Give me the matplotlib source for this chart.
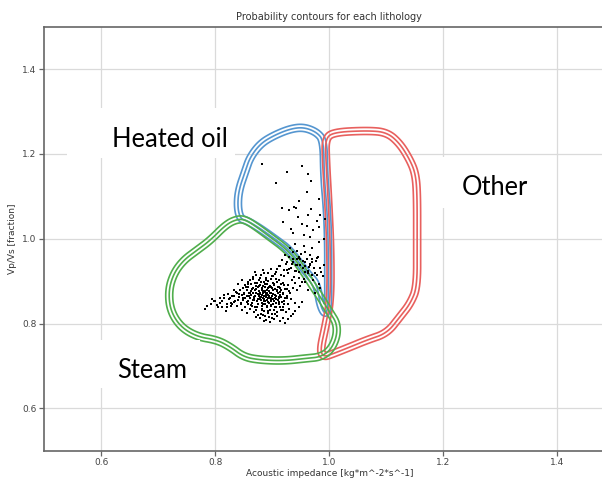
import numpy as np
import matplotlib.pyplot as plt
from matplotlib.path import Path
from matplotlib.patches import Rectangle

# outline of each lithology's probability region (acoustic impedance, Vp/Vs)
heated_x = [0.844, 0.839, 0.841, 0.853, 0.861, 0.879, 0.902, 0.931, 0.955, 0.978,
            0.990, 0.991, 0.996, 0.998, 0.998, 0.998, 0.993, 0.984, 0.978, 0.961,
            0.931, 0.908, 0.879, 0.855]
heated_y = [1.047, 1.074, 1.114, 1.161, 1.192, 1.224, 1.243, 1.259, 1.263, 1.251,
            1.231, 1.145, 1.067, 0.989, 0.909, 0.841, 0.820, 0.843, 0.894, 0.918,
            0.973, 0.996, 1.024, 1.043]

other_x = [0.993, 1.007, 1.066, 1.101, 1.124, 1.142, 1.151, 1.154, 1.154, 1.154,
           1.142, 1.124, 1.101, 1.066, 1.037, 1.007, 0.990, 0.984, 0.993, 1.002,
           1.002, 0.998, 0.994]
other_y = [1.235, 1.251, 1.255, 1.251, 1.224, 1.184, 1.153, 1.106, 0.988, 0.886,
           0.847, 0.816, 0.777, 0.761, 0.745, 0.729, 0.721, 0.737, 0.792, 0.855,
           0.973, 1.090, 1.184]

steam_x = [0.841, 0.820, 0.791, 0.768, 0.744, 0.727, 0.718, 0.721, 0.739, 0.768,
           0.803, 0.826, 0.850, 0.879, 0.920, 0.961, 0.984, 1.002, 1.013, 1.013,
           1.002, 0.984, 0.972, 0.961, 0.937, 0.920, 0.896, 0.873, 0.855]
steam_y = [1.047, 1.035, 0.996, 0.973, 0.949, 0.918, 0.878, 0.831, 0.792, 0.769,
           0.761, 0.745, 0.721, 0.714, 0.712, 0.718, 0.721, 0.737, 0.769, 0.800,
           0.824, 0.863, 0.886, 0.910, 0.957, 0.980, 1.004, 1.027, 1.043]

# measured samples: sparse upper group
upper_x = [0.881, 0.925, 0.952, 0.963, 0.968, 0.907, 0.960, 0.947, 0.938, 0.942,
           0.930, 0.917, 0.967, 0.981, 0.962, 0.945, 0.978, 0.918, 0.952, 0.960,
           0.933, 0.971, 0.981, 0.937, 0.955, 0.966, 0.990, 0.981, 0.993, 0.983]
upper_y = [1.176, 1.158, 1.172, 1.153, 1.137, 1.132, 1.111, 1.088, 1.075, 1.072,
           1.067, 1.073, 1.069, 1.093, 1.055, 1.052, 1.042, 1.040, 1.035, 1.030,
           1.024, 1.020, 1.028, 1.014, 1.008, 1.004, 1.000, 0.992, 1.047, 1.055]

# middle group near the heated oil / steam boundary
mid_x = [0.931, 0.940, 0.944, 0.955, 0.958, 0.969, 0.923, 0.936, 0.943, 0.950,
         0.953, 0.966, 0.970, 0.980, 0.917, 0.929, 0.934, 0.947, 0.949, 0.961,
         0.964, 0.977, 0.983, 0.913, 0.926, 0.930, 0.942, 0.946, 0.958, 0.962,
         0.973, 0.978, 0.908, 0.920, 0.925, 0.938, 0.941, 0.955, 0.957, 0.971,
         0.974, 0.988, 0.946, 0.937]
mid_y = [0.979, 0.987, 0.970, 0.983, 0.968, 0.978, 0.961, 0.969, 0.951, 0.963,
         0.948, 0.962, 0.944, 0.957, 0.949, 0.956, 0.941, 0.954, 0.937, 0.951,
         0.934, 0.947, 0.931, 0.936, 0.944, 0.928, 0.939, 0.921, 0.936, 0.918,
         0.931, 0.914, 0.929, 0.913, 0.927, 0.910, 0.923, 0.905, 0.921, 0.902,
         0.918, 0.911, 0.958, 0.952]

# dense steam group
core_x = [0.872, 0.885, 0.899, 0.905, 0.866, 0.878, 0.889, 0.897, 0.906, 0.912,
          0.858, 0.870, 0.880, 0.886, 0.893, 0.901, 0.909, 0.918, 0.852, 0.863,
          0.872, 0.879, 0.884, 0.890, 0.896, 0.903, 0.911, 0.921, 0.848, 0.857,
          0.866, 0.874, 0.881, 0.887, 0.892, 0.898, 0.905, 0.913, 0.925, 0.843,
          0.855, 0.862, 0.869, 0.876, 0.882, 0.886, 0.890, 0.895, 0.901, 0.908,
          0.916, 0.930, 0.838, 0.850, 0.859, 0.866, 0.872, 0.878, 0.883, 0.887,
          0.891, 0.896, 0.902, 0.910, 0.919, 0.832, 0.846, 0.856, 0.863, 0.870,
          0.876, 0.881, 0.885, 0.889, 0.894, 0.899, 0.906, 0.914, 0.926, 0.826,
          0.841, 0.852, 0.861, 0.868, 0.874, 0.879, 0.884, 0.889, 0.893, 0.898,
          0.904, 0.912, 0.922, 0.835, 0.849, 0.858, 0.866, 0.873, 0.880, 0.886,
          0.891, 0.897, 0.903, 0.910, 0.920, 0.829, 0.845, 0.857, 0.865, 0.874,
          0.882, 0.888, 0.895, 0.902, 0.911, 0.928, 0.820, 0.838, 0.852, 0.864,
          0.873, 0.881, 0.890, 0.898, 0.907, 0.918, 0.846, 0.860, 0.871, 0.882,
          0.893, 0.903, 0.915, 0.855, 0.868, 0.880, 0.892, 0.905, 0.872, 0.888,
          0.900, 0.885, 0.896,
          0.861, 0.867, 0.874, 0.877, 0.883, 0.886, 0.888, 0.891, 0.894, 0.897,
          0.899, 0.902, 0.905, 0.908, 0.911, 0.914, 0.917, 0.871, 0.876, 0.880,
          0.884, 0.887, 0.889, 0.892, 0.895, 0.898, 0.900, 0.903, 0.907, 0.910,
          0.913, 0.916, 0.919, 0.922, 0.925, 0.928, 0.931, 0.934, 0.937, 0.940,
          0.943, 0.946, 0.949, 0.952, 0.856, 0.859, 0.862, 0.865, 0.868, 0.870,
          0.873, 0.875, 0.878, 0.881, 0.882, 0.885, 0.886, 0.888, 0.890, 0.893,
          0.896, 0.897, 0.901, 0.904, 0.906, 0.909, 0.912, 0.915, 0.918, 0.921,
          0.924, 0.927, 0.930, 0.933, 0.936, 0.939,
          0.853, 0.857, 0.861, 0.866, 0.870, 0.876, 0.880, 0.884, 0.889, 0.893,
          0.898, 0.902, 0.906, 0.911, 0.915, 0.920, 0.924, 0.928, 0.932, 0.936,
          0.940, 0.944, 0.948, 0.953, 0.957, 0.962, 0.966, 0.970,
          0.874, 0.879, 0.884, 0.889, 0.894, 0.899, 0.903, 0.908, 0.913, 0.918,
          0.923, 0.928, 0.933, 0.940, 0.946, 0.952, 0.962, 0.975, 0.958, 0.981,
          0.970, 0.986, 0.966, 0.979, 0.990, 0.984]
core_y = [0.915, 0.918, 0.912, 0.916, 0.905, 0.907, 0.903, 0.906, 0.904, 0.902,
          0.898, 0.896, 0.899, 0.897, 0.900, 0.895, 0.898, 0.896, 0.890, 0.892,
          0.889, 0.891, 0.888, 0.892, 0.889, 0.891, 0.887, 0.890, 0.884, 0.886,
          0.883, 0.885, 0.882, 0.886, 0.883, 0.885, 0.882, 0.884, 0.881, 0.878,
          0.880, 0.877, 0.879, 0.876, 0.879, 0.877, 0.880, 0.876, 0.878, 0.877,
          0.879, 0.876, 0.872, 0.870, 0.873, 0.871, 0.873, 0.870, 0.872, 0.874,
          0.871, 0.873, 0.870, 0.872, 0.871, 0.866, 0.868, 0.865, 0.867, 0.864,
          0.866, 0.868, 0.865, 0.867, 0.864, 0.866, 0.865, 0.867, 0.864, 0.860,
          0.862, 0.859, 0.861, 0.860, 0.858, 0.861, 0.859, 0.862, 0.860, 0.858,
          0.861, 0.859, 0.860, 0.854, 0.856, 0.853, 0.855, 0.852, 0.855, 0.853,
          0.856, 0.854, 0.852, 0.855, 0.853, 0.847, 0.849, 0.846, 0.848, 0.845,
          0.848, 0.846, 0.849, 0.847, 0.845, 0.847, 0.840, 0.842, 0.839, 0.841,
          0.838, 0.841, 0.839, 0.842, 0.840, 0.838, 0.832, 0.834, 0.831, 0.833,
          0.830, 0.833, 0.831, 0.824, 0.826, 0.823, 0.825, 0.822, 0.815, 0.817,
          0.814, 0.806, 0.804,
          0.873, 0.862, 0.869, 0.858, 0.874, 0.866, 0.853, 0.879, 0.861, 0.871,
          0.884, 0.857, 0.868, 0.879, 0.862, 0.874, 0.851, 0.881, 0.889, 0.862,
          0.846, 0.893, 0.869, 0.851, 0.887, 0.843, 0.866, 0.894, 0.849, 0.885,
          0.839, 0.893, 0.869, 0.881, 0.859, 0.891, 0.871, 0.902, 0.884, 0.896,
          0.878, 0.908, 0.889, 0.899, 0.851, 0.866, 0.843, 0.881, 0.855, 0.838,
          0.895, 0.847, 0.872, 0.835, 0.883, 0.857, 0.829, 0.877, 0.841, 0.868,
          0.833, 0.859, 0.878, 0.838, 0.858, 0.828, 0.851, 0.862, 0.833, 0.847,
          0.826, 0.845, 0.834, 0.857, 0.822, 0.848,
          0.885, 0.893, 0.902, 0.910, 0.921, 0.903, 0.914, 0.926, 0.907, 0.918,
          0.929, 0.911, 0.921, 0.935, 0.914, 0.927, 0.941, 0.918, 0.932, 0.946,
          0.925, 0.938, 0.951, 0.931, 0.945, 0.925, 0.937, 0.951,
          0.821, 0.813, 0.819, 0.808, 0.816, 0.823, 0.811, 0.818, 0.806, 0.814,
          0.802, 0.811, 0.818, 0.829, 0.838, 0.851, 0.880, 0.871, 0.897, 0.893,
          0.915, 0.922, 0.941, 0.955, 0.938, 0.884]

# scattered samples to the left of the dense group
left_x = [0.782, 0.795, 0.800, 0.808, 0.812, 0.818, 0.815, 0.823, 0.828, 0.832,
          0.840, 0.846, 0.804, 0.851, 0.848, 0.845, 0.842, 0.839, 0.836, 0.833,
          0.830, 0.827, 0.824, 0.820, 0.816, 0.812, 0.808, 0.803, 0.798, 0.792,
          0.786]
left_y = [0.835, 0.858, 0.852, 0.848, 0.840, 0.830, 0.860, 0.870, 0.848, 0.880,
          0.892, 0.902, 0.838, 0.872, 0.861, 0.847, 0.869, 0.856, 0.874, 0.851,
          0.864, 0.842, 0.857, 0.847, 0.868, 0.853, 0.861, 0.844, 0.853, 0.847,
          0.842]

ring_offsets = [-3.5, 0.0, 3.5]   # spacing of the three contour rings, in pixels

fig = plt.figure(figsize=(6.02, 4.78), dpi=100)
ax = fig.add_axes([44.3 / 602, 27.3 / 478, 570.1 / 602, 424 / 478])
ax.set_xlim(0.5, 1.5)
ax.set_ylim(0.5, 1.5)

# signed distance (in screen pixels) to an outline, for ring contours
sx, sy = 570.1, 424.0
gx = np.linspace(0.5, 1.5, 700)
gy = np.linspace(0.5, 1.5, 700)
X, Y = np.meshgrid(gx, gy)
P = np.column_stack([X.ravel() * sx, Y.ravel() * sy])


def smooth(poly, n=3):
    # chaikin corner cutting on a closed outline
    for _ in range(n):
        nxt = np.roll(poly, -1, axis=0)
        poly = np.column_stack([0.75 * poly + 0.25 * nxt,
                                0.25 * poly + 0.75 * nxt]).reshape(-1, 2)
    return poly


def ring_field(xs, ys):
    poly = smooth(np.column_stack([xs, ys]) * [sx, sy])
    d = np.full(len(P), np.inf)
    for a, b in zip(poly, np.roll(poly, -1, axis=0)):
        ab = b - a
        t = np.clip(((P - a) @ ab) / (ab @ ab), 0, 1)
        proj = a + t[:, None] * ab
        d = np.minimum(d, np.hypot(*(P - proj).T))
    inside = Path(poly).contains_points(P)
    return np.where(inside, -d, d).reshape(X.shape)


ax.grid(True, color='#dadada', linewidth=0.9)
ax.set_axisbelow(True)

for xs, ys, col in [(heated_x, heated_y, '#5596d0'),
                    (other_x, other_y, '#e8605e'),
                    (steam_x, steam_y, '#50ae4c')]:
    ax.contour(X, Y, ring_field(xs, ys), levels=ring_offsets,
               colors=col, linewidths=1.2, linestyles='solid', zorder=3)

for xs, ys in [(upper_x, upper_y), (mid_x, mid_y), (core_x, core_y), (left_x, left_y)]:
    ax.scatter(xs, ys, s=2.2, c='black', marker='s', linewidths=0, zorder=4)

for spine in ax.spines.values():
    spine.set_color('#666666')
    spine.set_linewidth(1.2)
ax.set_xticks([0.6, 0.8, 1.0, 1.2, 1.4])
ax.set_yticks([0.6, 0.8, 1.0, 1.2, 1.4])
ax.tick_params(labelsize=6.5, colors='#666666', labelcolor='#444444',
               length=3.5, width=0.9, pad=2)
ax.set_title('Probability contours for each lithology', fontsize=7, color='#333333', pad=5)
ax.set_xlabel('Acoustic impedance [kg*m^-2*s^-1]', fontsize=6.5, color='#333333', labelpad=1)
ax.set_ylabel('Vp/Vs [fraction]', fontsize=6.5, color='#333333', labelpad=4)

# white text boxes with the class names
boxes = [(67, 108, 168, 50), (70, 340, 130, 48), (432, 157, 116, 51)]
for bx, by, bw, bh in boxes:
    fig.add_artist(Rectangle((bx / 602, 1 - (by + bh) / 478), bw / 602, bh / 478,
                             transform=fig.transFigure, facecolor='white',
                             edgecolor='none', zorder=2))

for label, lx, ly in [('Heated oil', 111.7, 146.7), ('Steam', 116.7, 378),
                      ('Other', 462, 195)]:
    fig.text(lx / 602, 1 - ly / 478, label, fontsize=18.4, family='Lato',
             color='black', ha='left', va='baseline', zorder=5)

fig.savefig('out.png', dpi=100)
